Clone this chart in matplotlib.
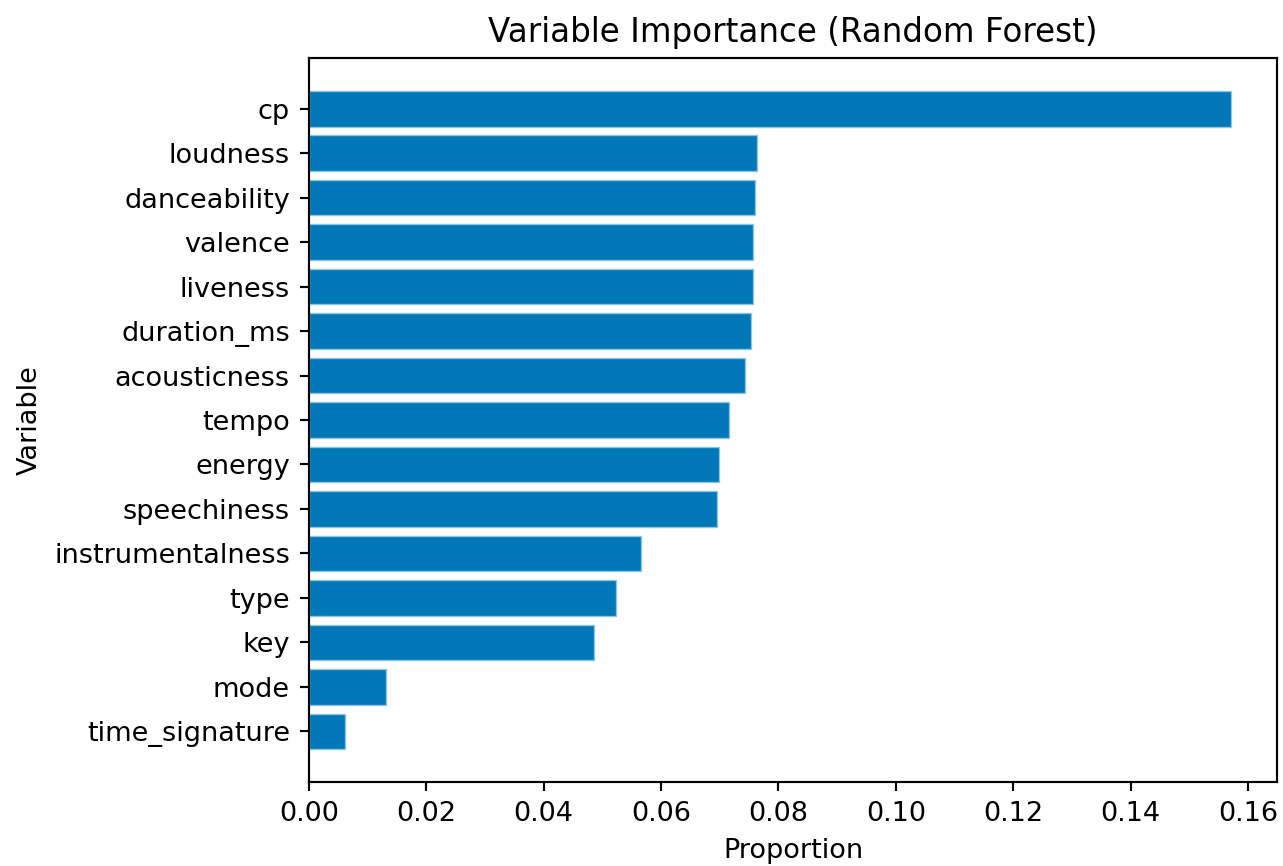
import matplotlib
matplotlib.use('Agg')
import matplotlib.pyplot as plt

# importance des variables
variables = ['cp', 'loudness', 'danceability', 'valence', 'liveness',
             'duration_ms', 'acousticness', 'tempo', 'energy', 'speechiness',
             'instrumentalness', 'type', 'key', 'mode', 'time_signature']
importance = [0.1571, 0.0763, 0.0760, 0.0757, 0.0757,
              0.0753, 0.0743, 0.0716, 0.0699, 0.0695,
              0.0566, 0.0524, 0.0485, 0.0131, 0.0061]

DPI = 195
fig = plt.figure(figsize=(1283 / DPI, 866 / DPI), dpi=DPI)
ax = fig.add_axes([0.2408, 0.0970, 0.7545, 0.836])

# ordre inversé pour avoir cp en haut
ax.barh(variables[::-1], importance[::-1], color='#0077b6',
        edgecolor='#8cc6e6', linewidth=0.5)

ax.set_title('Variable Importance (Random Forest)', fontsize=12)
ax.set_xlabel('Proportion')
ax.set_ylabel('Variable')
ax.xaxis.set_major_formatter(matplotlib.ticker.FormatStrFormatter('%.2f'))

fig.savefig('out.png', dpi=DPI)
